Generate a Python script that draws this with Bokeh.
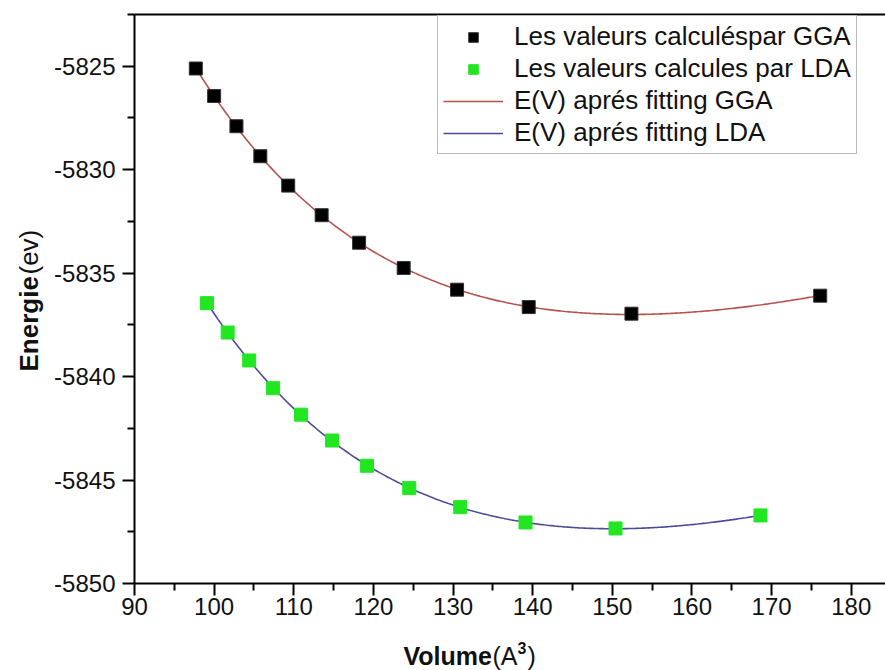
import numpy as np
from bokeh.plotting import figure
from bokeh.layouts import row, column
from bokeh.models import (Range1d, LinearAxis, Legend, LegendItem, Label,
                          FixedTicker)
from bokeh.embed import file_html
from bokeh.resources import INLINE

# Calculated total energies (eV) versus cell volume (A^3)
vol_gga = [97.7, 100.0, 102.8, 105.8, 109.3, 113.5, 118.2, 123.8, 130.5, 139.5, 152.4, 176.1]
e_gga = [-5825.11, -5826.44, -5827.90, -5829.35, -5830.77, -5832.20,
         -5833.53, -5834.75, -5835.80, -5836.64, -5836.96, -5836.09]

vol_lda = [99.1, 101.7, 104.4, 107.4, 110.9, 114.8, 119.2, 124.5, 130.9, 139.1, 150.4, 168.6]
e_lda = [-5836.45, -5837.87, -5839.22, -5840.56, -5841.84, -5843.09,
         -5844.31, -5845.39, -5846.31, -5847.05, -5847.34, -5846.71]

x_ticks = [90, 100, 110, 120, 130, 140, 150, 160, 170, 180]
y_ticks = [-5850, -5845, -5840, -5835, -5830, -5825]

FONT = "Liberation Sans"
TEXT = "#111111"

W, H = 885, 670
LEFT_W = 50      # strip holding the vertical axis title
BOTTOM_H = 40    # strip holding the horizontal axis title
FRAME_LEFT, FRAME_TOP, FRAME_BOTTOM = 134, 14, 583


def birch_murnaghan_fit(v, e, n=300):
    """Third-order Birch-Murnaghan E(V): a cubic in V^(-2/3)."""
    v = np.asarray(v, float)
    coef = np.polyfit(v ** (-2.0 / 3.0), np.asarray(e, float), 3)
    vv = np.linspace(v.min(), v.max(), n)
    return vv, np.polyval(coef, vv ** (-2.0 / 3.0))


fit_v_gga, fit_e_gga = birch_murnaghan_fit(vol_gga, e_gga)
fit_v_lda, fit_e_lda = birch_murnaghan_fit(vol_lda, e_lda)

p = figure(width=W - LEFT_W, height=H - BOTTOM_H, output_backend="svg",
           toolbar_location=None,
           x_range=Range1d(90, 184.3), y_range=Range1d(-5850, -5822.5),
           min_border_left=FRAME_LEFT - LEFT_W, min_border_right=0,
           min_border_top=FRAME_TOP,
           min_border_bottom=(H - BOTTOM_H) - FRAME_BOTTOM,
           background_fill_color="white", border_fill_color="white")
p.outline_line_color = None
p.xgrid.visible = False
p.ygrid.visible = False

for ax in (p.xaxis[0], p.yaxis[0]):
    ax.axis_line_width = 2
    ax.axis_line_color = "black"
    ax.major_tick_line_width = 2
    ax.minor_tick_line_width = 2
    ax.major_tick_in = 0
    ax.major_tick_out = 12
    ax.minor_tick_in = 0
    ax.minor_tick_out = 7
    ax.major_label_text_font = FONT
    ax.major_label_text_font_size = "24px"
    ax.major_label_text_color = TEXT

p.xaxis[0].ticker = FixedTicker(ticks=x_ticks, minor_ticks=[t + 5 for t in x_ticks])
p.yaxis[0].ticker = FixedTicker(ticks=y_ticks, minor_ticks=[t + 2.5 for t in y_ticks])
p.yaxis[0].major_label_overrides = {t: str(t) for t in y_ticks}
p.xaxis[0].major_label_standoff = 2
p.yaxis[0].major_label_standoff = 7

# plain line along the top of the frame
top = LinearAxis(axis_line_width=2, axis_line_color="black",
                 major_tick_line_color=None, minor_tick_line_color=None,
                 major_label_text_font_size="0px")
p.add_layout(top, "above")

r_fit_gga = p.line(fit_v_gga, fit_e_gga, line_color="#b5524c", line_width=1.6)
r_fit_lda = p.line(fit_v_lda, fit_e_lda, line_color="#4b4b9b", line_width=1.6)
r_gga = p.scatter(vol_gga, e_gga, marker="square", size=13,
                  fill_color="black", line_color="#333333", line_width=1)
r_lda = p.scatter(vol_lda, e_lda, marker="square", size=13,
                  fill_color="#22e622", line_color="#22e622", line_width=1)

legend = Legend(items=[
    LegendItem(label="Les valeurs calculéspar GGA", renderers=[r_gga]),
    LegendItem(label="Les valeurs calcules par LDA", renderers=[r_lda]),
    LegendItem(label="E(V) aprés fitting GGA", renderers=[r_fit_gga]),
    LegendItem(label="E(V) aprés fitting LDA", renderers=[r_fit_lda]),
], location=(303, 429))
legend.label_text_font = FONT
legend.label_text_font_size = "26px"
legend.label_text_color = TEXT
legend.label_height = 24
legend.glyph_height = 24
legend.glyph_width = 60
legend.label_standoff = 11
legend.spacing = 1
legend.padding = 5
legend.margin = 0
legend.border_line_color = "#777777"
legend.border_line_width = 1.5
legend.background_fill_color = "white"
legend.background_fill_alpha = 1
p.add_layout(legend, "center")


def strip(width, height):
    """Blank figure whose frame fills its canvas, used to hold axis titles."""
    s = figure(width=width, height=height, output_backend="svg",
               toolbar_location=None, x_axis_type=None, y_axis_type=None,
               x_range=Range1d(0, width), y_range=Range1d(0, height),
               min_border=0, background_fill_color="white",
               border_fill_color="white")
    s.outline_line_color = None
    return s


lab = dict(x_units="canvas", y_units="canvas", text_font=FONT,
           text_color=TEXT, text_baseline="middle")

# vertical title: "Energie" in bold followed by "(ev)"
ytitle = strip(LEFT_W, H - BOTTOM_H)
ytitle.add_layout(Label(text="Energie", text_font_style="bold",
                        text_font_size="26px", angle=np.pi / 2,
                        x=28, y=371, **lab))
ytitle.add_layout(Label(text="(ev)", text_font_size="26px", angle=np.pi / 2,
                        x=28, y=274, **lab))

# horizontal title: bold "Volume", then "(A", a bold superscript 3 and ")"
xtitle = strip(W, BOTTOM_H)
base = 655 - (H - BOTTOM_H)
xtitle.add_layout(Label(text="Volume", text_font_style="bold",
                        text_font_size="25px", x=403, y=base, **lab))
xtitle.add_layout(Label(text="(A", text_font_size="25px",
                        x=492, y=base, **lab))
xtitle.add_layout(Label(text="3", text_font_style="bold",
                        text_font_size="16px", x=517, y=base - 8, **lab))
xtitle.add_layout(Label(text=")", text_font_size="25px",
                        x=527, y=base, **lab))

layout = column(row(ytitle, p, spacing=0), xtitle, spacing=0)

open("out.html", "w").write(file_html(layout, INLINE))
